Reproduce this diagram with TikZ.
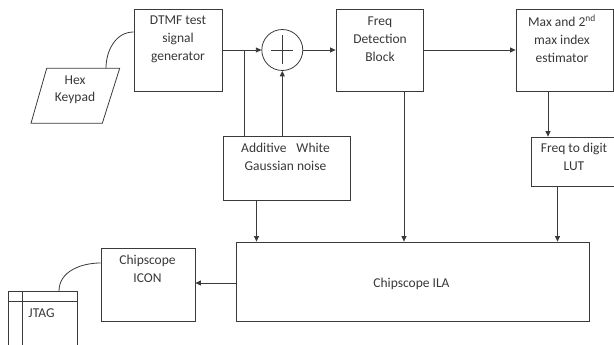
\documentclass[tikz,border=0pt]{standalone}
\usepackage{fontspec}
\setmainfont{Carlito}
\usetikzlibrary{arrows.meta,fit}
\definecolor{linec}{HTML}{3A3A3A}
\definecolor{txtc}{HTML}{383838}
\begin{document}
\begin{tikzpicture}[x=1pt,y=-1pt,
  box/.style={draw=linec, line width=0.8pt, inner sep=0pt},
  lbl/.style={text=txtc, align=center, inner sep=0pt, font=\fontsize{13.5}{18}\selectfont},
  wire/.style={draw=linec, line width=0.8pt},
  arr/.style={wire, -{Triangle[length=5.5pt,width=5pt]}}]
\useasboundingbox (0,0) rectangle (614,345);
% boxes
\node[box, fit={(134,9) (222,91)}] (dtmf) {};
\node[box, fit={(336,9) (423,91)}] (freq) {};
\node[box, fit={(516,9) (613,91)}] (max) {};
\node[box, fit={(223,136) (350,200)}] (awgn) {};
\node[box, fit={(531,137) (618,186)}] (lut) {};
\node[box, fit={(236,242) (589,321)}] (ila) {};
\node[box, fit={(101,248) (195,321)}] (icon) {};
\node[draw=linec, line width=0.8pt, circle, minimum size=41pt, inner sep=0pt] (sum) at (282.3,50) {};
\draw[wire] ([xshift=-11pt]sum.center) -- ([xshift=11pt]sum.center);
\draw[wire] ([yshift=14.5pt]sum.center) -- ([yshift=-14.5pt]sum.center);
% hex keypad
\draw[wire] (31,123.3) -- (46.7,68.3) -- (119.7,68.3) -- (102.3,123.3) -- cycle;
\coordinate (kp) at (106,68.3);
% JTAG
\draw[wire] (8,346) -- (8,291) -- (77,291) -- (77,346);
\draw[wire] (8,301) -- (77,301);
\draw[wire] (22,291) -- (22,346);
\coordinate (jt) at (59,291);
% texts
\node[lbl] (tdtmf) at (178,39) {DTMF test\\signal\\generator};
\node[lbl] (tfreq) at (380,39) {Freq\\Detection\\Block};
\node[lbl] (tmax) at (562,39) {Max and 2\textsuperscript{nd}\\max index\\estimator};
\node[lbl] (tawgn) at (285.5,157) {Additive\hspace{10pt}White\\Gaussian noise};
\node[lbl] (tlut) at (574,156.5) {Freq to digit\\LUT};
\node[lbl] (ticon) at (147.5,269) {Chipscope\\ICON};
\node[lbl] (tila) at (411.5,284) {Chipscope ILA};
\node[lbl, font=\fontsize{13.5}{16.7}\selectfont] (thex) at (75,90) {Hex\\Keypad};
\node[lbl] (tjtag) at (41.5,313) {JTAG};
% helper coordinates
\coordinate (j) at (244.5,50);
\coordinate (yk) at (0,32);
\coordinate (yc) at (0,263);
\coordinate (xa) at (548,0);
\coordinate (xb) at (557.5,0);
\coordinate (xc) at (404,0);
\coordinate (xd) at (256.5,0);
\coordinate (yi) at (0,283);
% connectors
\draw[arr] (dtmf.east |- sum) -- (sum.west);
\draw[wire] (awgn.north -| j) -- (j);
\draw[arr] (awgn.north -| sum) -- (sum.south);
\draw[arr] (sum.east) -- (freq.west |- sum);
\draw[arr] (freq.east |- sum) -- (max.west |- sum);
\draw[arr] (max.south -| xa) -- (lut.north -| xa);
\draw[arr] (lut.south -| xb) -- (ila.north -| xb);
\draw[arr] (freq.south -| xc) -- (ila.north -| xc);
\draw[arr] (awgn.south -| xd) -- (ila.north -| xd);
\draw[arr] (ila.west |- yi) -- (icon.east |- yi);
\draw[wire] (kp) to[out=90,in=180] (dtmf.west |- yk);
\draw[wire] (icon.west |- yc) to[out=180,in=90] (jt);
\end{tikzpicture}
\end{document}
